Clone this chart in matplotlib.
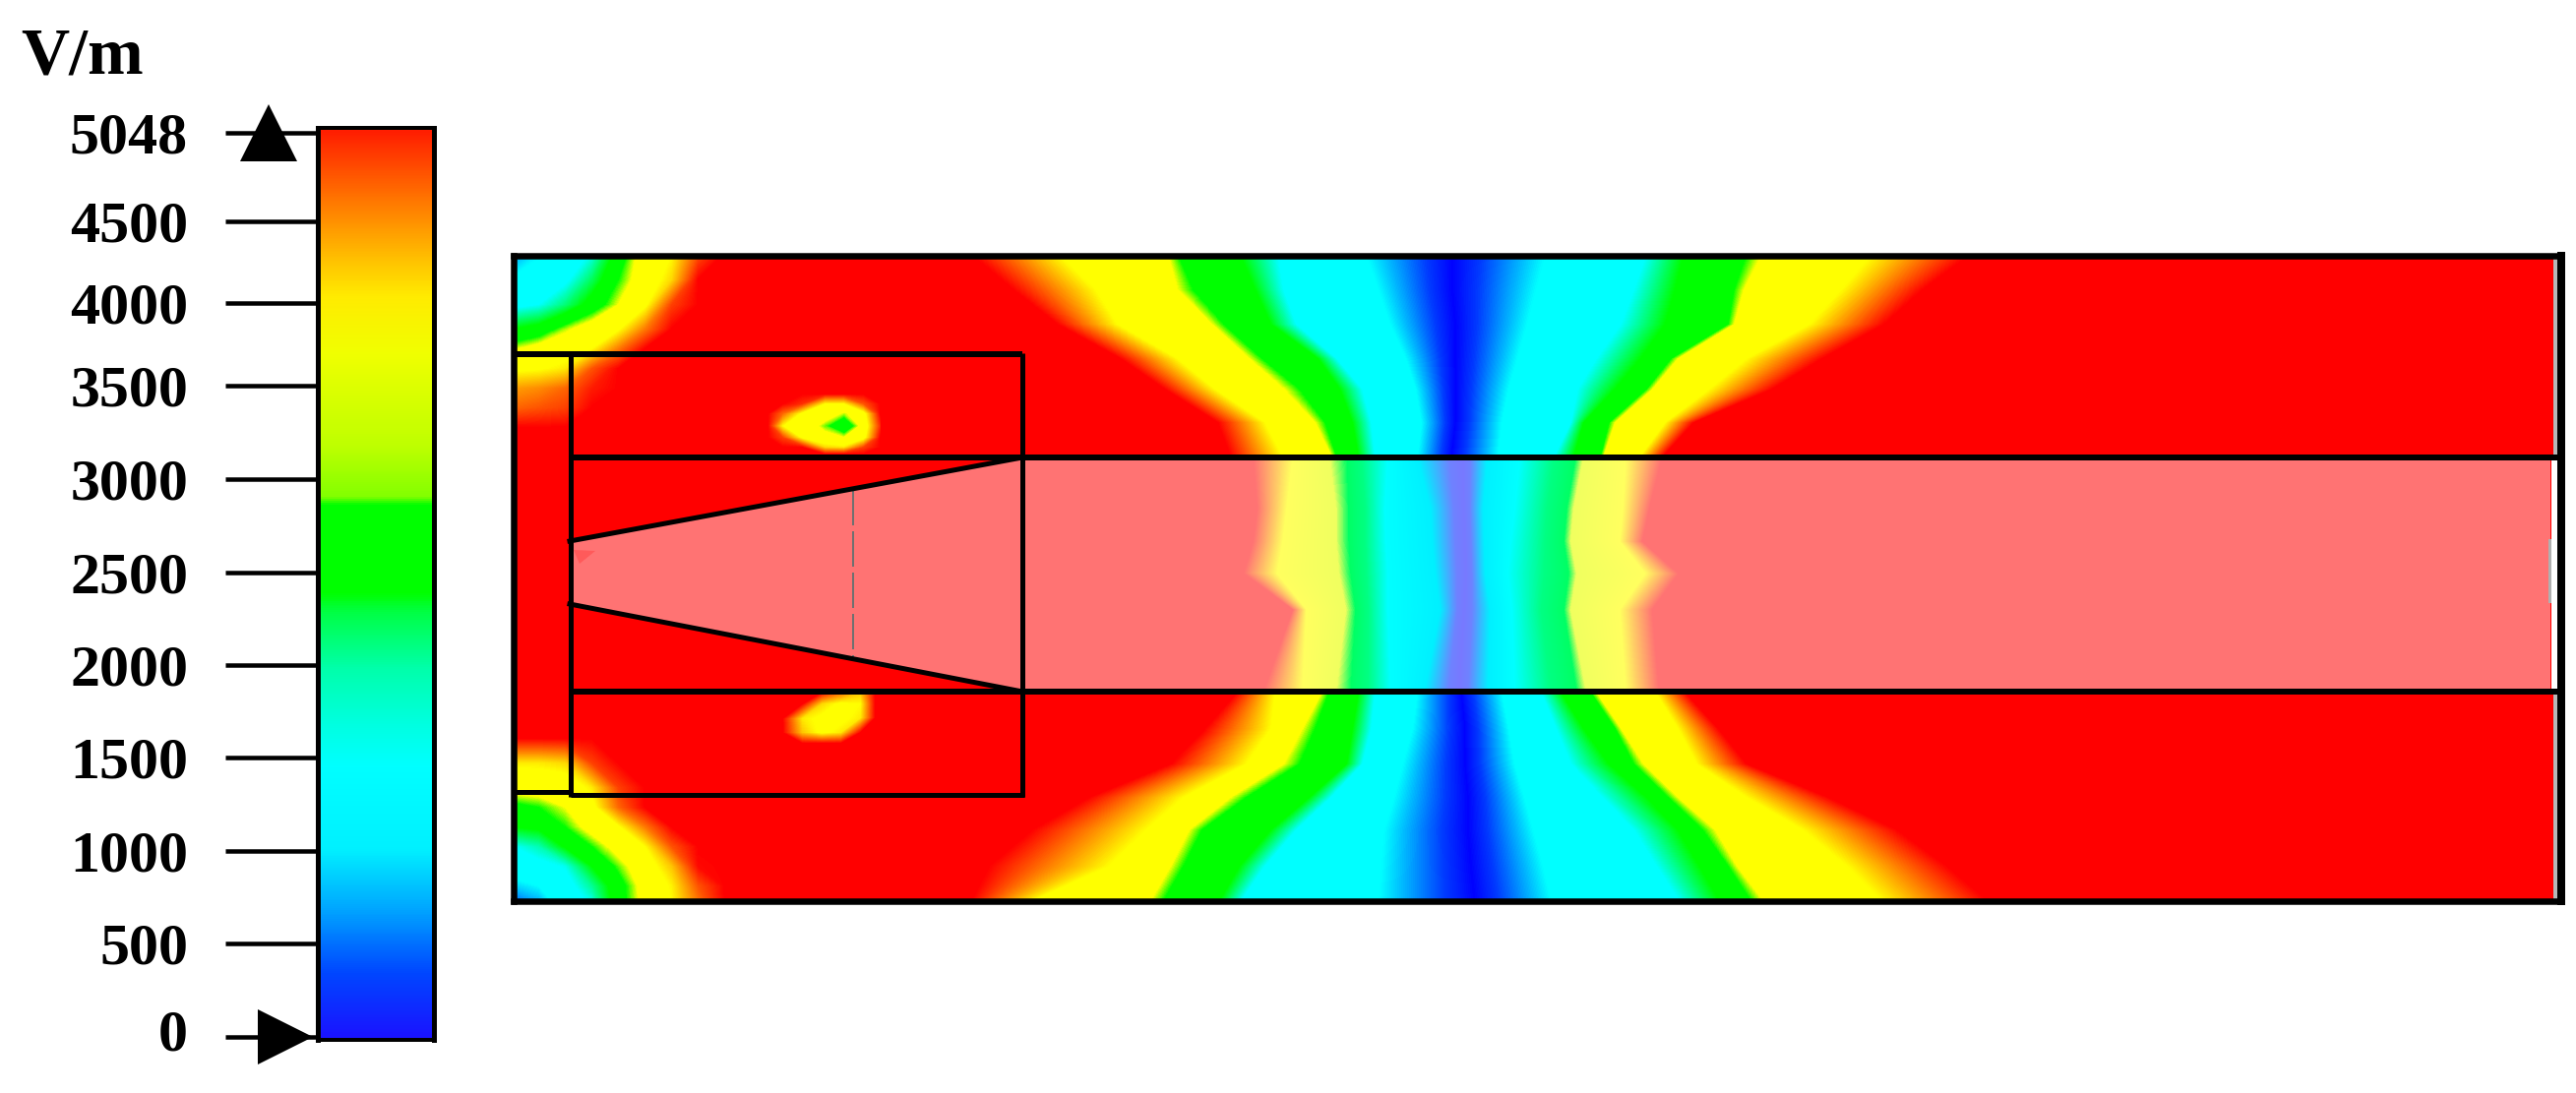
import matplotlib
matplotlib.use("Agg")
import matplotlib.pyplot as plt
import numpy as np
from matplotlib.colors import LinearSegmentedColormap
from matplotlib.patches import Polygon, Rectangle
from matplotlib.transforms import ScaledTranslation, blended_transform_factory

W, H = 2618, 1111

# colour bar, value -> colour
bar_values = [0, 330, 700, 1000, 1450, 1670, 1975, 2270, 2390, 2860, 2900, 3170, 3690, 4030, 4230, 4570, 5048]
bar_colors = ["#1914ff", "#0046ff", "#00aaff", "#00f0ff", "#00ffff", "#00ffe1", "#00ffaa", "#00ff46",
              "#00ff00", "#00ff00", "#82ff00", "#beff00", "#f0ff00", "#ffeb00", "#ffc800", "#ff8200", "#ff1e00"]

# field colours, flat bands of yellow, green and cyan
field_values = [0, 300, 950, 1450, 2300, 2800, 3100, 3700, 5048]
field_colors = ["#0000ff", "#003cff", "#00ffff", "#00ffff", "#00ff00", "#00ff00", "#ffff00", "#ffff00", "#ff0000"]
tube_colors = ["#7878ff", "#6e82ff", "#00f0ff", "#00ffff", "#00ff82", "#00ff64", "#f0ff5f", "#ffff5f", "#ff7373"]

# ticks of the bar, they are not evenly spaced in the picture
tick_values = [0, 500, 1000, 1500, 2000, 2500, 3000, 3500, 4000, 4500, 5048]
tick_heights = [0, 95, 189, 284, 378, 472, 567, 662, 746, 829, 919]

# field value on each band edge, left to right across the field
band_levels = [5048, 3700, 3100, 2800, 2300, 1450, 950, 0, 950, 1450, 2300, 2800, 3100, 3700, 5048]

# picture x of the band edges, above the tube
top_y = [258, 295, 330, 365, 396, 430, 465]
top_x_258 = [985, 1074, 1186, 1196, 1259, 1298, 1387, 1476, 1572, 1674, 1712, 1776, 1792, 1904, 2005]
top_x_295 = [1029, 1113, 1196, 1212, 1275, 1304, 1400, 1476, 1562, 1661, 1703, 1763, 1773, 1872, 1955]
top_x_330 = [1074, 1135, 1231, 1243, 1291, 1317, 1412, 1479, 1553, 1648, 1693, 1757, 1763, 1840, 1916]
top_x_365 = [1138, 1196, 1269, 1282, 1339, 1358, 1428, 1479, 1543, 1623, 1668, 1699, 1706, 1776, 1853]
top_x_396 = [1183, 1234, 1304, 1320, 1361, 1384, 1438, 1479, 1534, 1604, 1642, 1674, 1680, 1738, 1802]
top_x_430 = [1237, 1285, 1336, 1346, 1374, 1393, 1444, 1479, 1527, 1597, 1610, 1636, 1642, 1693, 1722]
top_x_465 = [1250, 1303, 1353, 1358, 1380, 1397, 1440, 1475, 1523, 1580, 1600, 1627, 1630, 1667, 1690]

# inside the tube
tube_y = [465, 517, 550, 583, 620, 703]
tube_x_465 = [1273, 1313, 1350, 1368, 1383, 1410, 1440, 1487, 1512, 1545, 1580, 1602, 1610, 1653, 1690]
tube_x_517 = [1277, 1307, 1357, 1370, 1387, 1407, 1453, 1488, 1508, 1540, 1573, 1593, 1600, 1650, 1677]
tube_x_550 = [1273, 1303, 1357, 1370, 1387, 1408, 1455, 1489, 1509, 1536, 1571, 1590, 1597, 1647, 1670]
tube_x_583 = [1263, 1297, 1360, 1372, 1388, 1410, 1458, 1490, 1510, 1533, 1570, 1595, 1603, 1673, 1707]
tube_x_620 = [1313, 1327, 1367, 1377, 1390, 1410, 1463, 1488, 1515, 1537, 1567, 1590, 1597, 1647, 1680]
tube_x_703 = [1283, 1323, 1357, 1372, 1390, 1413, 1447, 1483, 1513, 1540, 1577, 1603, 1613, 1653, 1687]

# below the tube
low_y = [703, 740, 776, 810, 843, 880, 918]
low_x_703 = [1257, 1295, 1343, 1350, 1380, 1397, 1440, 1485, 1527, 1567, 1587, 1617, 1623, 1683, 1713]
low_x_740 = [1224, 1291, 1323, 1336, 1374, 1393, 1435, 1489, 1534, 1582, 1610, 1642, 1648, 1706, 1747]
low_x_776 = [1189, 1266, 1304, 1320, 1368, 1384, 1425, 1489, 1540, 1597, 1636, 1661, 1671, 1725, 1776]
low_x_810 = [1106, 1202, 1250, 1266, 1330, 1352, 1416, 1492, 1550, 1629, 1674, 1696, 1706, 1776, 1859]
low_x_843 = [1048, 1164, 1208, 1221, 1291, 1317, 1406, 1492, 1559, 1661, 1706, 1731, 1744, 1833, 1929]
low_x_880 = [1004, 1126, 1189, 1202, 1259, 1285, 1403, 1495, 1569, 1684, 1728, 1757, 1766, 1878, 1980]
low_x_918 = [985, 1042, 1167, 1180, 1237, 1259, 1400, 1499, 1578, 1709, 1750, 1782, 1795, 1916, 2025]

# top left corner
tl_x = [522, 548, 575, 602, 629, 656, 683, 710, 737]
tl_y = [258, 285, 310, 335, 355, 375, 395, 415, 435]
tl_vals = [[600, 900, 1100, 1500, 2500, 3400, 3690, 4600, 5048],
           [1000, 1150, 1350, 2000, 2800, 3400, 3900, 5048, 5048],
           [1300, 1450, 1900, 2500, 3100, 3600, 4700, 5048, 5048],
           [2300, 2500, 3000, 3400, 3650, 4400, 5048, 5048, 5048],
           [3050, 3300, 3500, 3700, 4400, 5048, 5048, 5048, 5048],
           [3600, 3650, 3800, 4600, 5048, 5048, 5048, 5048, 5048],
           [4200, 4300, 4500, 4900, 5048, 5048, 5048, 5048, 5048],
           [4500, 4600, 4700, 5048, 5048, 5048, 5048, 5048, 5048],
           [5048, 5048, 5048, 5048, 5048, 5048, 5048, 5048, 5048]]

# bottom left corner
bl_x = [522, 548, 575, 602, 629, 656, 683, 710, 737]
bl_y = [750, 775, 800, 820, 840, 860, 880, 900, 918]
bl_vals = [[5048, 5048, 5048, 5048, 5048, 5048, 5048, 5048, 5048],
           [3800, 3800, 3900, 4700, 5048, 5048, 5048, 5048, 5048],
           [3300, 3350, 3400, 3800, 4700, 5048, 5048, 5048, 5048],
           [2650, 2800, 3100, 3550, 4500, 5048, 5048, 5048, 5048],
           [2300, 2400, 2800, 3300, 3650, 4400, 5048, 5048, 5048],
           [1450, 1700, 2350, 2800, 3300, 3700, 4600, 5048, 5048],
           [1200, 1300, 1500, 2300, 2900, 3450, 4000, 5000, 5048],
           [800, 950, 1250, 1800, 2600, 3300, 3750, 4600, 5048],
           [350, 650, 1200, 1500, 2600, 3250, 3700, 4400, 5048]]

# two small spots left of the middle
spot1_x = [780, 795, 815, 838, 858, 878, 895]
spot1_y = [400, 410, 420, 433, 445, 455, 462]
spot1_vals = [[5048, 5048, 5048, 5048, 5048, 5048, 5048],
              [5048, 5048, 4800, 3700, 3700, 4600, 5048],
              [5048, 4500, 3600, 3400, 3000, 3500, 5048],
              [5048, 3700, 3500, 2900, 2300, 3300, 4800],
              [5048, 4700, 3600, 3300, 3100, 3500, 5048],
              [5048, 5048, 5048, 3900, 3800, 4700, 5048],
              [5048, 5048, 5048, 5048, 5048, 5048, 5048]]
spot2_x = [795, 815, 835, 855, 875, 890]
spot2_y = [703, 715, 730, 745, 756]
spot2_vals = [[5048, 5048, 5048, 4500, 4000, 5048],
              [5048, 5048, 3900, 3600, 3700, 5048],
              [5048, 3800, 3600, 3600, 3800, 5048],
              [5048, 4000, 3600, 3800, 5048, 5048],
              [5048, 5048, 5048, 5048, 5048, 5048]]

PX = 0.72  # one picture pixel in points at dpi 100

fig = plt.figure(figsize=(W / 100, H / 100), dpi=100, facecolor="white")
plt.rcParams["font.family"] = ["Liberation Serif", "DejaVu Serif"]


def axes_at(x0, y0, x1, y1):
    return fig.add_axes([x0 / W, 1 - y1 / H, (x1 - x0) / W, (y1 - y0) / H])


def make_cmap(values, colors):
    return LinearSegmentedColormap.from_list("c", [(v / 5048, c) for v, c in zip(values, colors)], N=512)


bar_cmap = make_cmap(bar_values, bar_colors)
field_cmap = make_cmap(field_values, field_colors)
tube_cmap = make_cmap(field_values, tube_colors)
levels = np.linspace(0, 5048, 257)

# colour bar, frame goes a little past both end ticks
cax = axes_at(322.5, 130, 441, 1057)
knot_values = [-16] + tick_values + [5078]
knot_heights = [-3] + tick_heights + [924]
cax.set_yscale("function", functions=(lambda v: np.interp(v, knot_values, knot_heights),
                                      lambda h: np.interp(h, knot_heights, knot_values)))
grad = np.linspace(-16, 5078, 512)
cax.pcolormesh([0, 1], grad, np.c_[grad[:-1]], cmap=bar_cmap, vmin=0, vmax=5048, shading="flat")
cax.set_xlim(0, 1)
cax.set_ylim(-16, 5078)
cax.set_xticks([])
cax.set_yticks(tick_values)
cax.set_yticklabels([str(t) for t in tick_values], fontsize=60 * PX, fontweight="bold")
cax.minorticks_off()
cax.tick_params(axis="y", length=94.5 * PX, width=4.5 * PX, pad=37 * PX)
cax.spines["left"].set_linewidth(5 * PX)
cax.spines["right"].set_linewidth(5 * PX)
cax.spines["top"].set_linewidth(4 * PX)
cax.spines["bottom"].set_linewidth(4 * PX)
# the 0 label sits a bit above its tick
zero_label = cax.get_yticklabels()[0]
zero_label.set_transform(zero_label.get_transform() + ScaledTranslation(0, 7 / 100, fig.dpi_scale_trans))

blend = blended_transform_factory(cax.transAxes, cax.transData)
cax.plot([-0.418], [5048], marker="^", ms=58 * PX, color="black", mew=0, transform=blend, clip_on=False)
cax.plot([-0.278], [0], marker=">", ms=56 * PX, color="black", mew=0, transform=blend, clip_on=False)

fig.text(21 / W, 1 - 74 / H, "V/m", fontsize=49, fontweight="bold", va="baseline", ha="left")

# field, coordinates in picture pixels
ax = axes_at(522, 260, 2603, 916)
ax.set_facecolor("#ff0000")
ax.set_xlim(522, 2603)
ax.set_ylim(916, 260)
ax.set_xticks([])
ax.set_yticks([])


def draw_bands(ys, rows, cmap, z):
    xs = np.array(rows, dtype=float)
    yy = np.repeat(np.array(ys, dtype=float)[:, None], xs.shape[1], axis=1)
    zz = np.repeat(np.array(band_levels, dtype=float)[None, :], xs.shape[0], axis=0)
    ax.contourf(xs, yy, zz, levels=levels, cmap=cmap, vmin=0, vmax=5048, antialiased=False, zorder=z)


draw_bands(top_y, [top_x_258, top_x_295, top_x_330, top_x_365, top_x_396, top_x_430, top_x_465], field_cmap, 1)
draw_bands(low_y, [low_x_703, low_x_740, low_x_776, low_x_810, low_x_843, low_x_880, low_x_918], field_cmap, 1)

for gx, gy, gz in [(tl_x, tl_y, tl_vals), (bl_x, bl_y, bl_vals),
                   (spot1_x, spot1_y, spot1_vals), (spot2_x, spot2_y, spot2_vals)]:
    ax.contourf(gx, gy, gz, levels=levels, cmap=field_cmap, vmin=0, vmax=5048, antialiased=False, zorder=1)

# cone and tube are paler
ax.add_patch(Polygon([(578, 550), (1039, 465), (2592, 465), (2592, 703), (1039, 703), (578, 614)],
                     closed=True, facecolor="#ff7373", edgecolor="none", zorder=2))
draw_bands(tube_y, [tube_x_465, tube_x_517, tube_x_550, tube_x_583, tube_x_620, tube_x_703], tube_cmap, 3)
ax.add_patch(Polygon([(583, 559), (605, 560), (589, 573)], closed=True, facecolor="#ff5a5a",
                     edgecolor="none", zorder=4))
ax.plot([867, 867], [498, 669], color="#707070", lw=2 * PX, ls=(0, (18, 3)), zorder=4)

# pale strip along the right end
ax.add_patch(Rectangle((2595, 260), 8, 203, facecolor="#b8b8b8", edgecolor="none", zorder=4))
ax.add_patch(Rectangle((2595, 705), 8, 211, facecolor="#b8b8b8", edgecolor="none", zorder=4))
ax.add_patch(Rectangle((2593, 465), 10, 238, facecolor="white", edgecolor="none", zorder=4))
ax.add_patch(Rectangle((2590, 548), 3, 65, facecolor="#b0b0b0", edgecolor="none", zorder=4))

v_lw = 5 * PX
h_lw = 6 * PX
ax.plot([522, 1039], [359.5, 359.5], color="black", lw=h_lw, zorder=5, solid_capstyle="butt")
ax.plot([579.5, 1041], [808, 808], color="black", lw=v_lw, zorder=5, solid_capstyle="butt")
ax.plot([522, 579], [805, 805], color="black", lw=v_lw, zorder=5, solid_capstyle="butt")
ax.plot([579.5, 579.5], [359, 810], color="black", lw=v_lw, zorder=5, solid_capstyle="butt")
ax.plot([1039, 1039], [359, 810], color="black", lw=v_lw, zorder=5, solid_capstyle="butt")
ax.plot([579, 2600], [465, 465], color="black", lw=h_lw, zorder=5, solid_capstyle="butt")
ax.plot([579, 2600], [703, 703], color="black", lw=h_lw, zorder=5, solid_capstyle="butt")
ax.plot([579, 1039], [550, 465], color="black", lw=v_lw, zorder=5)
ax.plot([579, 1039], [614, 703], color="black", lw=v_lw, zorder=5)

for s in ax.spines.values():
    s.set_linewidth(6.5 * PX)
    s.set_zorder(6)
ax.spines["right"].set_linewidth(8 * PX)

fig.savefig("out.png", dpi=100)
